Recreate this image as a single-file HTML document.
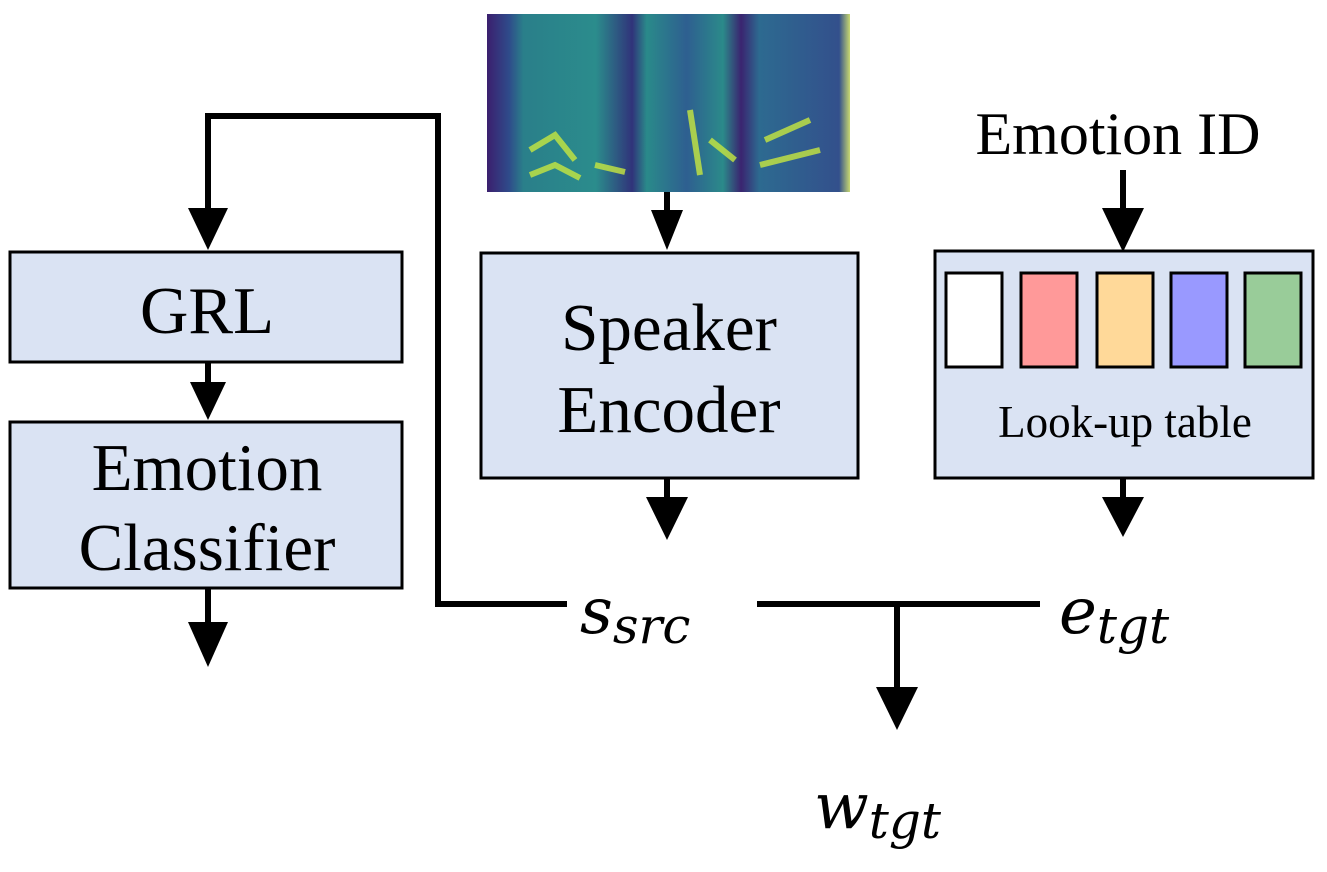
<!DOCTYPE html>
<html><head><style>body{margin:0;background:#fff}svg{display:block}</style></head><body>
<svg width="1327" height="872" viewBox="0 0 1327 872" xmlns="http://www.w3.org/2000/svg" font-family="Liberation Serif, serif">
<defs>
<linearGradient id="sp" x1="0" y1="0" x2="1" y2="0">
<stop offset="0" stop-color="#3b1f6e"/><stop offset="0.06" stop-color="#2f4a8a"/>
<stop offset="0.1" stop-color="#2a7f8a"/><stop offset="0.3" stop-color="#2b8c8c"/>
<stop offset="0.4" stop-color="#30337a"/><stop offset="0.44" stop-color="#2a8a8a"/>
<stop offset="0.55" stop-color="#2e5f90"/><stop offset="0.65" stop-color="#2b8a8a"/>
<stop offset="0.7" stop-color="#3a2470"/><stop offset="0.75" stop-color="#2d6a90"/>
<stop offset="0.97" stop-color="#33508c"/><stop offset="1" stop-color="#c8d870"/>
</linearGradient>
</defs>
<rect x="487" y="14" width="363" height="178" fill="url(#sp)"/>
<g stroke="#c8e840" stroke-width="6" fill="none" opacity="0.8">
<path d="M530 150 L555 135 L575 160"/><path d="M530 175 L555 165 L580 178"/>
<path d="M595 165 L625 172"/><path d="M690 110 L700 175"/><path d="M710 140 L735 160"/>
<path d="M760 165 L820 150"/><path d="M765 140 L810 120"/>
</g>
<g fill="#dae3f3" stroke="#000" stroke-width="3">
<rect x="10" y="252" width="392" height="110"/>
<rect x="10" y="422" width="392" height="166"/>
<rect x="481" y="253" width="377" height="225"/>
<rect x="935" y="251" width="378" height="227"/>
<rect x="946" y="273" width="56" height="94" fill="#fff"/>
<rect x="1021" y="273" width="56" height="94" fill="#ff9999"/>
<rect x="1097" y="273" width="56" height="94" fill="#ffd999"/>
<rect x="1171" y="273" width="56" height="94" fill="#9999ff"/>
<rect x="1245" y="273" width="56" height="94" fill="#99cc99"/>
</g>
<g stroke="#000" stroke-width="6" fill="none">
<path d="M567 604 H438 V116 H208 V212"/>
<path d="M208 362 V385"/><path d="M208 588 V625"/>
<path d="M667 192 V212"/><path d="M667 478 V500"/>
<path d="M1123 170 V212"/><path d="M1123 478 V500"/>
<path d="M757 604 H1040"/><path d="M897 604 V690"/>
</g>
<g fill="#000">
<polygon points="188,208 228,208 208,250"/>
<polygon points="190,382 226,382 208,420"/>
<polygon points="188,622 228,622 208,667"/>
<polygon points="651,210 683,210 667,250"/>
<polygon points="646,497 688,497 667,540"/>
<polygon points="1102,208 1144,208 1123,252"/>
<polygon points="1102,497 1144,497 1123,537"/>
<polygon points="876,687 918,687 897,730"/>
</g>
<g font-size="67" text-anchor="middle" fill="#000">
<text x="207" y="333">GRL</text>
<text x="207" y="490">Emotion</text>
<text x="207" y="570">Classifier</text>
<text x="669" y="350">Speaker</text>
<text x="669" y="432">Encoder</text>
<text x="1118" y="154" font-size="60">Emotion ID</text>
<text x="1125" y="437" font-size="45">Look-up table</text>
</g>
<g font-family="DejaVu Serif, serif" font-style="italic" fill="#000">
<text x="580" y="633" font-size="64">s<tspan font-size="50" dy="10">src</tspan></text>
<text x="1059" y="633" font-size="64">e<tspan font-size="50" dy="10">tgt</tspan></text>
<text x="814" y="828" font-size="64">w<tspan font-size="50" dy="10">tgt</tspan></text>
</g>
</svg>
</body></html>
